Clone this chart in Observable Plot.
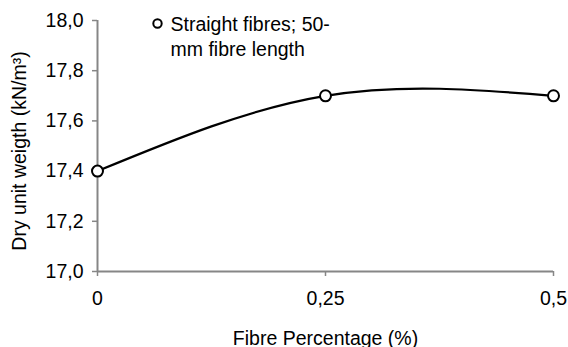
<!DOCTYPE html>
<html>
<head>
<meta charset="utf-8">
<script src="https://cdn.jsdelivr.net/npm/d3@7"></script>
<script src="https://cdn.jsdelivr.net/npm/@observablehq/plot@0.6"></script>
<style>
  html, body { margin: 0; padding: 0; background: #fff; }
</style>
</head>
<body>
<div id="chart"></div>
<script>
const fibrePercentage = [0, 0.25, 0.5];
const dryUnitWeight = [17.4, 17.7, 17.7];
const xTicks = [0, 0.25, 0.5];
const yTicks = [17.0, 17.2, 17.4, 17.6, 17.8, 18.0];
const seriesName = "Straight fibres; 50-\nmm fibre length";
const xTitle = "Fibre Percentage (%)";
const yTitle = "Dry unit weigth (kN/m³)";

const data = fibrePercentage.map((x, i) => ({x, y: dryUnitWeight[i]}));
const fmtY = d => d.toFixed(1).replace(".", ",");
const fmtX = d => String(d).replace(".", ",");
const axisGray = "#868686";
const FS = 19.5;

const chart = Plot.plot({
  width: 568,
  height: 347,
  marginLeft: 97,
  marginRight: 15,
  marginTop: 20,
  marginBottom: 76,
  x: {domain: [0, 0.5], label: null},
  y: {domain: [17, 18], label: null},
  style: {fontFamily: "'Liberation Sans', Arial, sans-serif", fontSize: FS + "px", background: "#fff", color: "#000"},
  marks: [
    Plot.axisY(yTicks, {tickSize: 5, tickPadding: 9, tickFormat: fmtY, stroke: axisGray, strokeWidth: 1.5, fill: "#000", fontSize: FS, label: null}),
    Plot.axisX(xTicks, {tickSize: 5, tickPadding: 15, tickFormat: fmtX, stroke: axisGray, strokeWidth: 1.5, fill: "#000", fontSize: FS, label: null}),
    Plot.ruleX([0], {stroke: axisGray, strokeWidth: 2}),
    Plot.ruleY([17], {stroke: axisGray, strokeWidth: 2}),
    Plot.line(data, {x: "x", y: "y", curve: "natural", stroke: "#000", strokeWidth: 2.2}),
    Plot.dot(data, {x: "x", y: "y", r: 5.5, stroke: "#000", strokeWidth: 2, fill: "#fff"}),
    Plot.dot([seriesName], {frameAnchor: "top-left", dx: 60, dy: 3, r: 4.2, stroke: "#000", strokeWidth: 2, fill: "#fff"}),
    Plot.text([seriesName], {frameAnchor: "top-left", dx: 73, dy: 15, text: d => d, textAnchor: "start", lineAnchor: "middle", lineHeight: 1.3, fontSize: FS, fill: "#000"}),
    Plot.text([xTitle], {frameAnchor: "bottom", dy: 73, text: d => d, fontSize: FS, fill: "#000"}),
    Plot.text([yTitle], {frameAnchor: "left", dx: -78, dy: 5, rotate: -90, textAnchor: "middle", text: d => d, fontSize: FS, fill: "#000"})
  ]
});
document.getElementById("chart").appendChild(chart);
</script>
</body>
</html>
